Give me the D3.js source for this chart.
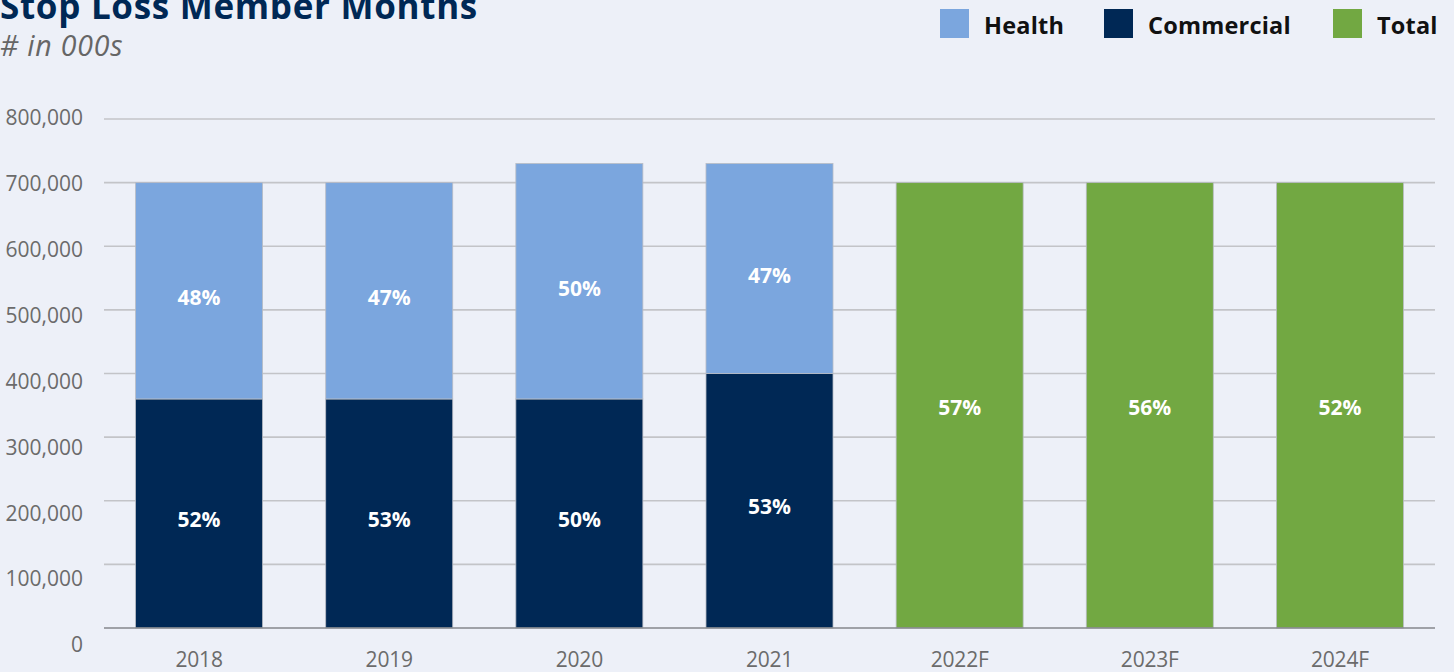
<!DOCTYPE html>
<html>
<head>
<meta charset="utf-8">
<script src="https://cdn.jsdelivr.net/npm/d3@7"></script>
<style>
  html, body { margin: 0; padding: 0; background: #edf0f8; }
  svg { display: block; }
  text { font-family: "Open Sans", Lato, sans-serif; }
</style>
</head>
<body>
<svg id="chart" width="1454" height="672"></svg>
<script>
// ---- data ----
const categories = ["2018", "2019", "2020", "2021", "2022F", "2023F", "2024F"];
const commercialValues = [360000, 360000, 360000, 400000, null, null, null];
const healthValues = [340000, 340000, 370000, 330000, null, null, null];
const totalValues = [null, null, null, null, 700000, 700000, 700000];
const commercialLabels = ["52%", "53%", "50%", "53%", null, null, null];
const healthLabels = ["48%", "47%", "50%", "47%", null, null, null];
const totalLabels = [null, null, null, null, "57%", "56%", "52%"];
const yTicks = [0, 100000, 200000, 300000, 400000, 500000, 600000, 700000, 800000];
const legendItems = ["Health", "Commercial", "Total"];

const colors = { Health: "#7ba6de", Commercial: "#002855", Total: "#72a842" };

const svg = d3.select("#chart");
const plot = { left: 104, right: 1435, top: 119, bottom: 628 };

const x = d3.scaleBand().domain(categories).range([plot.left, plot.right]).paddingInner(0.332).paddingOuter(0.166);
const y = d3.scaleLinear().domain([0, 800000]).range([plot.bottom, plot.top]);
// tick labels in reference sit on a slightly wider spacing than the gridlines
const yLab = d3.scaleLinear().domain([0, 800000]).range([645, 118]);

// gridlines
svg.append("g").selectAll("line").data(yTicks.filter(d => d > 0)).join("line")
  .attr("x1", plot.left).attr("x2", plot.right)
  .attr("y1", d => y(d)).attr("y2", d => y(d))
  .attr("stroke", "#c3c4c8").attr("stroke-width", 1.6);

// y tick labels
const fmt = d3.format(",");
svg.append("g").selectAll("text").data(yTicks).join("text")
  .attr("x", 83).attr("y", d => yLab(d)).attr("dy", "0.35em")
  .attr("text-anchor", "end").attr("fill", "#6b6b6b").attr("font-size", 21)
  .text(d => fmt(d));

// bars
const rows = categories.map((c, i) => ({
  cat: c,
  commercial: commercialValues[i], health: healthValues[i], total: totalValues[i],
  cLab: commercialLabels[i], hLab: healthLabels[i], tLab: totalLabels[i]
}));

const bars = svg.append("g");
const labels = svg.append("g");
rows.forEach(r => {
  const bx = x(r.cat), bw = x.bandwidth();
  if (r.commercial != null) {
    bars.append("rect").attr("x", bx).attr("width", bw)
      .attr("y", y(r.commercial)).attr("height", y(0) - y(r.commercial))
      .attr("fill", colors.Commercial).attr("stroke", "#b9bcc4").attr("stroke-width", 0.8);
    bars.append("rect").attr("x", bx).attr("width", bw)
      .attr("y", y(r.commercial + r.health)).attr("height", y(r.commercial) - y(r.commercial + r.health))
      .attr("fill", colors.Health).attr("stroke", "#b9bcc4").attr("stroke-width", 0.8);
    labels.append("text").attr("x", bx + bw / 2).attr("y", (y(0) + y(r.commercial)) / 2 + 6)
      .attr("dy", "0.35em").text(r.cLab);
    labels.append("text").attr("x", bx + bw / 2).attr("y", (y(r.commercial) + y(r.commercial + r.health)) / 2 + 7)
      .attr("dy", "0.35em").text(r.hLab);
  }
  if (r.total != null) {
    bars.append("rect").attr("x", bx).attr("width", bw)
      .attr("y", y(r.total)).attr("height", y(0) - y(r.total))
      .attr("fill", colors.Total).attr("stroke", "#b9bcc4").attr("stroke-width", 0.8);
    labels.append("text").attr("x", bx + bw / 2).attr("y", (y(0) + y(r.total)) / 2 + 2)
      .attr("dy", "0.35em").text(r.tLab);
  }
});
labels.selectAll("text").attr("text-anchor", "middle").attr("fill", "#ffffff")
  .attr("font-size", 21).attr("font-weight", 700);

// baseline
svg.append("line").attr("x1", plot.left).attr("x2", plot.right)
  .attr("y1", y(0)).attr("y2", y(0)).attr("stroke", "#85878c").attr("stroke-width", 1.6);

// x axis labels
svg.append("g").selectAll("text").data(categories).join("text")
  .attr("x", d => x(d) + x.bandwidth() / 2).attr("y", 667)
  .attr("text-anchor", "middle").attr("fill", "#6b6b6b").attr("font-size", 21)
  .attr("letter-spacing", -0.2)
  .text(d => d);

// title
svg.append("text").attr("x", 0).attr("y", 19).attr("fill", "#002855")
  .attr("font-size", 35).attr("font-weight", 700).attr("letter-spacing", 0.7).text("Stop Loss Member Months");
svg.append("text").attr("x", 0).attr("y", 56).attr("fill", "#666666")
  .attr("font-size", 28.5).attr("font-style", "italic").attr("letter-spacing", 0.8).text("# in 000s");

// legend
const legendX = [940, 1104, 1333];
const lg = svg.append("g").selectAll("g").data(legendItems).join("g")
  .attr("transform", (d, i) => `translate(${legendX[i]},9)`);
lg.append("rect").attr("width", 29).attr("height", 29).attr("fill", d => colors[d]);
lg.append("text").attr("x", 44).attr("y", 25).attr("fill", "#111111")
  .attr("font-size", 23.5).attr("font-weight", 700).attr("letter-spacing", 0.2).text(d => d);
</script>
</body>
</html>
